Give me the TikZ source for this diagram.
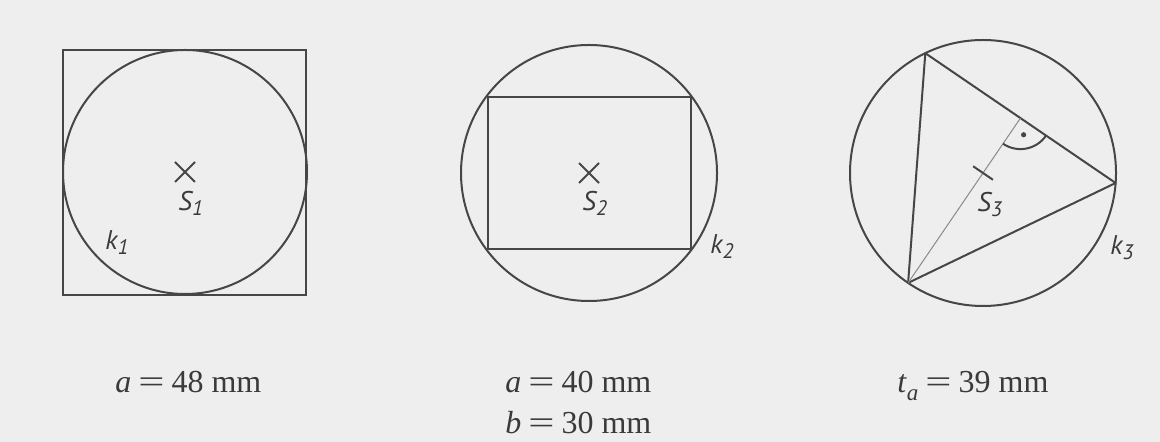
\documentclass[tikz,border=0pt]{standalone}
\usepackage{fontspec}
\usepackage{graphicx}
\setmainfont{Liberation Serif}
\newfontfamily\lblfont{PT Sans}
\usetikzlibrary{calc}
\definecolor{bgcol}{HTML}{EEEEEE}
\definecolor{linecol}{HTML}{464646}
\definecolor{medcol}{HTML}{8A8A8A}
\definecolor{txtcol}{HTML}{3A3A3A}
\newcommand{\sub}[1]{\raisebox{-0.35ex}{\fontsize{10.5}{10.5}\selectfont #1}}
\newcommand{\eqsign}{\hspace{3.5pt}\scalebox{1.45}[1]{=}\hspace{3.5pt}}
\begin{document}
\begin{tikzpicture}[x=0.5pt,y=-0.5pt,
  geo/.style={draw=linecol, line width=1pt},
  thinline/.style={draw=medcol, line width=0.5pt},
  lbl/.style={font=\lblfont\itshape\fontsize{13.5}{15}\selectfont, text=txtcol, inner sep=0pt, anchor=base west},
  captext/.style={font=\fontsize{16}{19}\selectfont, text=txtcol, inner sep=0pt, anchor=base west},
]
\fill[bgcol] (0,0) rectangle (1160,442);
\useasboundingbox (0,0) rectangle (1160,442);

% ---------- panel 1 ----------
\coordinate (S1) at (185,172);
\draw[geo] (63,50) rectangle (306,295);
\draw[geo] (S1) circle[radius=61pt];
\draw[geo] (S1) +(-5pt,-5pt) -- +(5pt,5pt) (S1) +(-5pt,5pt) -- +(5pt,-5pt);
\node[lbl] (s1lbl) at (178,211) {S\sub{1}};
\node[lbl] (k1lbl) at (105,250) {k\sub{1}};

% ---------- panel 2 ----------
\coordinate (S2) at (589,173);
\draw[geo] (S2) circle[radius=64pt];
\draw[geo] (488,97) rectangle (691,249);
\draw[geo] (S2) +(-5pt,-5pt) -- +(5pt,5pt) (S2) +(-5pt,5pt) -- +(5pt,-5pt);
\node[lbl] (s2lbl) at (582,211) {S\sub{2}};
\node[lbl] (k2lbl) at (710,254) {k\sub{2}};

% ---------- panel 3 ----------
\coordinate (S3) at (983,173);
\coordinate (A) at (908.1,282.9);
\coordinate (B) at (925.3,53.2);
\coordinate (C) at (1115.6,183.0);
\coordinate (M) at ($(B)!0.5!(C)$);
\draw[geo] (S3) circle[radius=66.5pt];
\draw[geo, line join=round] (A) -- (B) -- (C) -- cycle;
\draw[thinline] (A) -- (M);
\draw[geo] ($(S3)+(145.7:6pt)$) -- ($(S3)+(325.7:6pt)$);
\draw[geo] ($(M)+(235.7:15.5pt)$) arc[start angle=235.7, end angle=325.7, radius=15.5pt];
\fill[linecol] ($(M)+(280.7:8.5pt)$) circle[radius=1.3pt];
\node[lbl] (s3lbl) at (977,212) {S\sub{3}};
\node[lbl] (k3lbl) at (1110,255) {k\sub{3}};

% ---------- captions ----------
\node[captext] (cap1) at (115,393) {\textit{a}\eqsign 48 mm};
\node[captext] (cap2a) at (505,393) {\textit{a}\eqsign 40 mm};
\node[captext] (cap2b) at (505,434) {\textit{b}\eqsign 30 mm};
\node[captext] (cap3) at (897,393) {\textit{t}\raisebox{-0.5ex}{\fontsize{11.5}{11.5}\selectfont\itshape a}\eqsign 39 mm};
\end{tikzpicture}
\end{document}
